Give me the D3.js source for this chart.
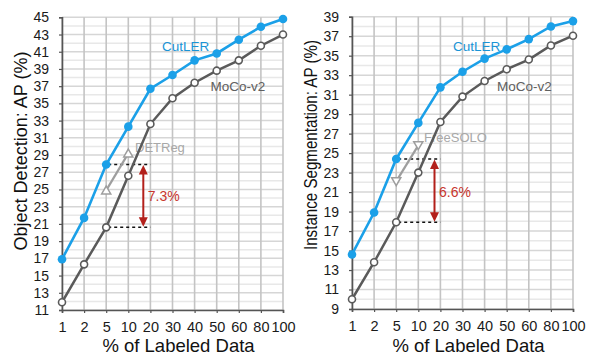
<!DOCTYPE html>
<html>
<head>
<meta charset="utf-8">
<script src="https://cdn.jsdelivr.net/npm/d3@7"></script>
<style>
  html, body { margin: 0; padding: 0; background: #fff; }
  svg { display: block; font-family: "Liberation Sans", Arial, Helvetica, sans-serif; }
</style>
</head>
<body>
<svg id="chart" width="600" height="359"></svg>
<script>
// ---------- data ----------
const categories = ["1", "2", "5", "10", "20", "30", "40", "50", "60", "80", "100"];

const detCutLER = [16.9, 21.7, 27.9, 32.3, 36.7, 38.3, 40.0, 40.8, 42.4, 43.9, 44.8];
const detMoCo   = [11.9, 16.3, 20.6, 26.6, 32.6, 35.6, 37.4, 38.8, 40.0, 41.7, 43.0];
const detBaselineCats = ["5", "10"];
const detDETReg = [24.9, 29.2];
const detGapLabel = "7.3%";

const segCutLER = [14.6, 18.9, 24.4, 28.1, 31.75, 33.35, 34.7, 35.65, 36.7, 38.0, 38.55];
const segMoCo   = [10.0, 13.8, 17.9, 23.0, 28.2, 30.8, 32.4, 33.6, 34.6, 36.05, 37.05];
const segBaselineCats = ["5", "10"];
const segFreeSOLO = [22.1, 25.8];
const segGapLabel = "6.6%";

const detYTicks = d3.range(11, 46, 2);
const segYTicks = d3.range(9, 40, 2);

// ---------- style ----------
const BLUE = "#1ba0e8";
const DARK = "#5a5a5a";
const LIGHT = "#9e9e9e";
const RED = "#b3201b";
const REDTXT = "#c8362e";

const svg = d3.select("#chart");

function panel(opt) {
  const g = svg.append("g");
  const x = d3.scalePoint().domain(categories).range([opt.x0, opt.x1]);
  const y = d3.scaleLinear().domain(opt.domain).range([opt.yb, opt.yt]);

  // horizontal grid (every unit)
  const hvals = d3.range(opt.domain[0], opt.domain[1] + 1, 1);
  g.append("g").selectAll("line").data(hvals).join("line")
    .attr("x1", opt.x0).attr("x2", opt.x1)
    .attr("y1", d => y(d)).attr("y2", d => y(d))
    .attr("stroke", d => ((d - opt.domain[0]) % 2 === 0) ? "#d6d6d6" : "#e8e8e8")
    .attr("stroke-width", 1.5);
  // vertical grid
  g.append("g").selectAll("line").data(categories).join("line")
    .attr("x1", d => x(d)).attr("x2", d => x(d))
    .attr("y1", opt.yt).attr("y2", opt.yb)
    .attr("stroke", "#c4c4c4").attr("stroke-width", 1.6);

  // axes
  const yAxis = d3.axisLeft(y).tickValues(opt.ticks).tickSize(3).tickPadding(10);
  const ya = g.append("g").attr("transform", `translate(${opt.x0},0)`).call(yAxis);
  const xAxis = d3.axisBottom(x).tickSize(3).tickPadding(9);
  const xa = g.append("g").attr("transform", `translate(0,${opt.yb})`).call(xAxis);
  [ya, xa].forEach(a => {
    a.select(".domain").attr("stroke", "#555").attr("stroke-width", 1.6);
    a.selectAll(".tick line").attr("stroke", "#555").attr("stroke-width", 1.2);
    a.selectAll(".tick text").attr("fill", "#1a1a1a")
      .style("font-family", '"Liberation Sans", Arial, sans-serif');
  });
  ya.selectAll(".tick text").style("font-size", "14px");
  xa.selectAll(".tick text").style("font-size", "14.5px");

  // axis titles
  g.append("text")
    .attr("transform", `translate(${opt.titleX},${opt.titleY}) rotate(-90)`)
    .attr("text-anchor", "middle")
    .attr("textLength", opt.titleLen).attr("lengthAdjust", "spacingAndGlyphs")
    .style("font-size", "18px").attr("fill", "#111")
    .text(opt.yTitle);
  g.append("text")
    .attr("x", (opt.x0 + opt.x1) / 2 + 6).attr("y", 352)
    .attr("text-anchor", "middle")
    .style("font-size", "18.5px").attr("fill", "#111")
    .text("% of Labeled Data");

  // baseline label (drawn under lines)
  g.append("text")
    .attr("x", opt.baseLabelX).attr("y", opt.baseLabelY)
    .style("font-size", "13px").attr("fill", "#a8a8a8")
    .text(opt.baseName);

  // dashed reference lines
  const c0 = x("5"), c1 = x("20");
  const topV = opt.cut[categories.indexOf("5")];
  const botV = opt.moco[categories.indexOf("5")];
  [topV, botV].forEach(v => {
    g.append("line")
      .attr("x1", c0 - 4).attr("x2", c1)
      .attr("y1", y(v)).attr("y2", y(v))
      .attr("stroke", "#111").attr("stroke-width", 1.5)
      .attr("stroke-dasharray", "3,3");
  });

  // baseline series
  const bl = d3.line().x((d, i) => x(opt.baseCats[i])).y(d => y(d));
  g.append("path").datum(opt.base).attr("d", bl)
    .attr("fill", "none").attr("stroke", LIGHT).attr("stroke-width", 2.2);
  const tri = d3.symbol().type(d3.symbolTriangle).size(36);
  g.append("g").selectAll("path").data(opt.base).join("path")
    .attr("d", tri)
    .attr("transform", (d, i) => `translate(${x(opt.baseCats[i])},${y(d) + (opt.down ? -1 : 1)}) rotate(${opt.down ? 180 : 0})`)
    .attr("fill", "#fff").attr("stroke", LIGHT).attr("stroke-width", 1.5);

  // MoCo-v2
  const line = d3.line().x((d, i) => x(categories[i])).y(d => y(d));
  g.append("path").datum(opt.moco).attr("d", line)
    .attr("fill", "none").attr("stroke", DARK).attr("stroke-width", 2.5);
  g.append("g").selectAll("circle").data(opt.moco).join("circle")
    .attr("cx", (d, i) => x(categories[i])).attr("cy", d => y(d)).attr("r", 3.5)
    .attr("fill", "#fff").attr("stroke", DARK).attr("stroke-width", 1.6);

  // CutLER
  g.append("path").datum(opt.cut).attr("d", line)
    .attr("fill", "none").attr("stroke", BLUE).attr("stroke-width", 2.6);
  g.append("g").selectAll("circle").data(opt.cut).join("circle")
    .attr("cx", (d, i) => x(categories[i])).attr("cy", d => y(d)).attr("r", 4.3)
    .attr("fill", BLUE);

  // series labels
  g.append("text").attr("x", opt.cutLabelX).attr("y", 51)
    .style("font-size", "13.5px").attr("fill", "#1a94d6").text("CutLER");
  g.append("text").attr("x", opt.mocoLabelX).attr("y", 91)
    .style("font-size", "13.5px").attr("fill", "#606060").text("MoCo-v2");

  // double-headed arrow
  const ax = opt.arrowX, ya0 = y(topV), ya1 = y(botV);
  g.append("line").attr("x1", ax).attr("x2", ax)
    .attr("y1", ya0 + 8).attr("y2", ya1 - 8)
    .attr("stroke", RED).attr("stroke-width", 2);
  g.append("path").attr("d", `M${ax},${ya0 + 0.5} L${ax - 4.5},${ya0 + 10} L${ax + 4.5},${ya0 + 10} Z`).attr("fill", RED);
  g.append("path").attr("d", `M${ax},${ya1 - 0.5} L${ax - 4.5},${ya1 - 10} L${ax + 4.5},${ya1 - 10} Z`).attr("fill", RED);
  g.append("text").attr("x", ax + 4.5).attr("y", opt.gapLabelY)
    .style("font-size", "14px").attr("fill", REDTXT).text(opt.gapLabel);
}

panel({
  x0: 62, x1: 283, yt: 17.3, yb: 310, domain: [11, 45], ticks: detYTicks,
  cut: detCutLER, moco: detMoCo, base: detDETReg, baseCats: detBaselineCats, down: false,
  baseName: "DETReg", baseLabelX: 135, baseLabelY: 152,
  yTitle: "Object Detection: AP (%)", titleX: 27, titleY: 151, titleLen: 199,
  cutLabelX: 162, mocoLabelX: 210.5, arrowX: 143.3, gapLabel: detGapLabel, gapLabelY: 201
});

panel({
  x0: 352, x1: 573, yt: 16.7, yb: 309, domain: [9, 39], ticks: segYTicks,
  cut: segCutLER, moco: segMoCo, base: segFreeSOLO, baseCats: segBaselineCats, down: true,
  baseName: "FreeSOLO", baseLabelX: 424, baseLabelY: 142,
  yTitle: "Instance Segmentation: AP (%)", titleX: 317, titleY: 145, titleLen: 210,
  cutLabelX: 453, mocoLabelX: 497, arrowX: 434.5, gapLabel: segGapLabel, gapLabelY: 197
});
</script>
</body>
</html>
